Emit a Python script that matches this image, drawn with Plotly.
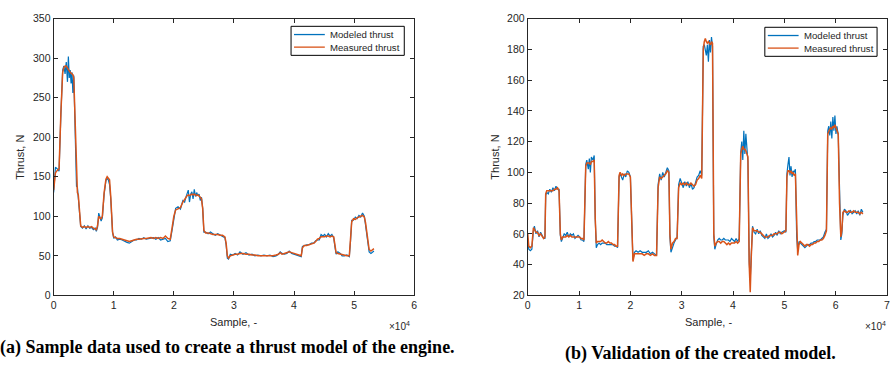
import plotly.graph_objects as go

# ---- (a) training data: sample index, measured thrust, modeled thrust ----
train_sample = [0, 300, 600, 900, 1200, 1500, 1700, 1900, 2100, 2300, 2450, 2600, 2750, 2900, 3050, 3200, 3350,
                3600, 3800, 3950, 4100, 4300, 4500, 4800, 5100, 5400, 5700, 6000, 6300, 6600, 6900, 7100, 7300,
                7500, 7700, 7900, 8100, 8400, 8700, 8900, 9100, 9300, 9500, 9800, 10000, 10300, 10600, 11000,
                11400, 11800, 12200, 12600, 13000, 13400, 13800, 14200, 14600, 15000, 15400, 15800, 16200, 16600,
                17000, 17400, 17800, 18200, 18600, 19000, 19400, 19700, 20000, 20300, 20700, 21100, 21500, 21800,
                22000, 22200, 22400, 22600, 22800, 23000, 23200, 23400, 23600, 23800, 24000, 24200, 24400, 24600,
                24800, 25000, 25300, 25700, 26100, 26500, 26900, 27300, 27700, 28100, 28500, 28700, 28900, 29100,
                29400, 29800, 30200, 30600, 31000, 31500, 32000, 32500, 33000, 33500, 34000, 34500, 35000, 35500,
                36000, 36500, 37000, 37400, 37700, 38000, 38400, 38800, 39200, 39600, 40000, 40400, 40800, 41200,
                41400, 41700, 42100, 42500, 42900, 43300, 43600, 43900, 44200, 44500, 44800, 45100, 45400, 45700,
                46000, 46300, 46600, 46800, 47000, 47300, 47700, 48000, 48400, 48800, 49200, 49400, 49600, 49900,
                50200, 50500, 50800, 51100, 51400, 51700, 51900, 52200, 52500, 52800, 53000, 53300]
train_measured = [133, 155, 158, 160, 230, 282, 288, 290, 290, 288, 287, 284, 282, 281, 280, 279, 275,
                  210, 140, 130, 127, 110, 88, 86, 87, 86, 87, 86, 87, 85, 84, 83, 88,
                  100, 98, 97, 100, 130, 147, 150, 148, 146, 125, 80, 74, 73, 72, 72,
                  71, 70, 69, 68, 69, 70, 71, 71, 72, 72, 72, 73, 73, 72,
                  73, 72, 73, 72, 75, 72, 71, 85, 100, 108, 110, 111, 118, 122,
                  125, 126, 127, 126, 127, 128, 127, 128, 127, 126, 127, 126, 124, 122,
                  110, 82, 79, 79, 78, 77, 77, 77, 76, 76, 74, 66, 50, 47,
                  50, 51, 52, 52, 53, 53, 52, 52, 51, 51, 50, 50, 50, 50,
                  50, 50, 51, 52, 54, 52, 53, 54, 55, 54, 53, 52, 51, 50,
                  60, 63, 63, 64, 65, 66, 68, 71, 72, 74, 74, 74, 75, 75,
                  74, 75, 74, 65, 54, 53, 52, 52, 51, 50, 50, 70, 93, 97,
                  96, 98, 99, 100, 101, 99, 92, 75, 58, 56, 57, 59]
train_modeled = [130, 162, 160, 157, 228, 285, 290, 280, 295, 270, 302, 275, 285, 268, 282, 256, 278,
                 205, 138, 137, 124, 112, 87, 85, 88, 84, 88, 85, 86, 83, 85, 81, 86,
                 104, 100, 94, 98, 128, 145, 148, 146, 140, 122, 80, 72, 74, 70, 71,
                 70, 68, 67, 66, 68, 70, 70, 72, 71, 73, 71, 72, 72, 73,
                 71, 73, 70, 71, 72, 68, 69, 82, 98, 110, 112, 109, 120, 118,
                 124, 129, 133, 118, 128, 131, 122, 134, 125, 130, 126, 128, 120, 124,
                 110, 80, 80, 78, 80, 78, 76, 78, 76, 75, 73, 64, 47, 46,
                 52, 51, 53, 51, 55, 52, 54, 51, 52, 50, 51, 50, 51, 50,
                 51, 49, 50, 52, 55, 53, 52, 53, 56, 53, 52, 51, 50, 49,
                 62, 63, 64, 64, 66, 66, 69, 70, 70, 77, 75, 77, 74, 78,
                 75, 77, 73, 62, 52, 55, 53, 50, 50, 51, 49, 68, 95, 95,
                 99, 97, 101, 99, 104, 100, 90, 72, 55, 53, 54, 56]

# ---- (b) validation data ----
valid_sample = [0, 200, 500, 800, 1100, 1300, 1600, 1900, 2200, 2500, 2800, 3100, 3350,
                3500, 3700, 4000, 4300, 4600, 4900, 5200, 5500, 5800, 6100,
                6350, 6550, 6800, 7100, 7400, 7700, 8000, 8300, 8600, 8900, 9200, 9500, 9800, 10100, 10400,
                10700, 10950, 11300, 11500, 11800, 12000, 12200, 12400, 12700, 12950,
                13150, 13350, 13600, 13900, 14200, 14500, 14800, 15100, 15400, 15700, 16000, 16300, 16600,
                16900, 17200, 17500, 17800, 18000, 18300, 18500, 18800, 19100, 19400, 19700, 20000,
                20300, 20500, 20800, 21100, 21500, 21900, 22300, 22700, 23100, 23500, 23900, 24300, 24700,
                25100, 25400, 25700, 26000, 26300, 26600, 26900, 27200, 27500,
                27700, 27900, 28200, 28500, 28800, 29100, 29400, 29700, 30000, 30300, 30600, 30900, 31200,
                31500, 31800, 32100, 32400, 32700, 33000, 33300, 33600, 33900,
                34200, 34400, 34600, 34800, 35000, 35200, 35400, 35600, 35800, 36000,
                36250, 36450, 36700, 37000, 37300, 37600, 37900, 38200, 38500, 38800, 39100, 39400, 39700,
                40000, 40300, 40600, 40900, 41200, 41500, 41700, 41900, 42100, 42300, 42500, 42700, 42900,
                43150, 43350, 43550, 43800, 44100, 44400, 44700, 45000, 45300, 45600, 45900, 46200, 46500,
                46800, 47100, 47400, 47700, 48000, 48300, 48600, 48900, 49200, 49500, 49800, 50000, 50300,
                50500, 50700, 50900, 51100, 51300, 51500, 51700, 51900, 52150,
                52400, 52600, 52850, 53100, 53400, 53700, 54000, 54300, 54600, 54900, 55200, 55500, 55800,
                56100, 56400, 56700, 57000, 57300, 57600, 57900, 58200,
                58450, 58650, 58850, 59050, 59250, 59450, 59650, 59850, 60050, 60250, 60500,
                60750, 61000, 61200, 61400, 61700, 62000, 62300, 62600, 62900, 63200, 63500, 63800, 64100,
                64400, 64700, 65000, 65300]
valid_measured = [60, 52, 51, 52, 64, 63, 61, 61, 59, 60, 58, 57, 58,
                  86, 88, 88, 88, 88, 88, 89, 89, 90, 88,
                  60, 56, 58, 58, 58, 59, 58, 59, 58, 58, 58, 58, 58, 58, 57,
                  57, 56, 104, 106, 106, 106, 105, 107, 107, 108,
                  70, 54, 55, 55, 55, 56, 55, 54, 54, 55, 54, 54, 53,
                  53, 52, 52, 98, 100, 98, 99, 98, 99, 99, 99, 97,
                  60, 42, 47, 47, 47, 47, 47, 46, 47, 47, 46, 47, 46,
                  46, 90, 97, 96, 97, 98, 99, 101, 100,
                  60, 50, 54, 55, 57, 57, 90, 93, 92, 93, 92, 93, 92,
                  92, 93, 92, 91, 92, 95, 96, 98, 96,
                  180, 185, 187, 185, 184, 185, 184, 183, 185, 184,
                  60, 52, 54, 55, 55, 54, 55, 55, 54, 53, 54, 53, 54,
                  54, 54, 55, 54, 55, 112, 115, 117, 115, 115, 114, 112, 110,
                  40, 22, 45, 64, 62, 62, 62, 61, 61, 60, 59, 58, 58,
                  58, 59, 59, 59, 60, 60, 60, 61, 61, 60, 61, 61, 62,
                  97, 101, 101, 100, 101, 99, 100, 98, 99,
                  60, 46, 53, 55, 54, 53, 52, 53, 53, 52, 53, 53, 54,
                  54, 55, 55, 56, 56, 57, 59, 62,
                  125, 127, 128, 129, 128, 130, 129, 131, 129, 127, 125,
                  80, 58, 62, 74, 75, 74, 74, 75, 74, 74, 75, 74, 74,
                  74, 73, 74, 73]
valid_modeled = [57, 50, 49, 50, 62, 65, 60, 62, 58, 61, 59, 57, 57,
                 85, 87, 86, 89, 87, 90, 88, 91, 89, 89,
                 59, 55, 57, 60, 59, 61, 58, 60, 59, 60, 57, 58, 59, 58, 56,
                 56, 55, 105, 108, 102, 109, 100, 110, 108, 111,
                 70, 51, 53, 54, 53, 54, 54, 54, 53, 53, 53, 53, 53,
                 52, 52, 51, 97, 99, 96, 95, 99, 97, 101, 100, 97,
                 58, 43, 48, 49, 48, 49, 48, 48, 48, 49, 47, 48, 47,
                 46, 92, 99, 95, 100, 97, 100, 103, 101,
                 58, 48, 52, 54, 56, 58, 92, 96, 93, 90, 94, 91, 94,
                 90, 93, 89, 90, 93, 97, 98, 101, 98,
                 182, 183, 180, 176, 183, 172, 186, 178, 188, 182,
                 58, 50, 53, 56, 57, 56, 56, 57, 56, 56, 56, 55, 57,
                 56, 55, 57, 55, 57, 113, 120, 108, 127, 112, 125, 118, 107,
                 42, 30, 46, 65, 61, 60, 63, 60, 62, 59, 58, 57, 60,
                 57, 58, 60, 58, 59, 61, 59, 62, 60, 61, 62, 62, 61,
                 99, 105, 110, 98, 104, 97, 101, 100, 102,
                 58, 49, 55, 54, 53, 52, 51, 52, 53, 53, 54, 54, 55,
                 55, 56, 56, 56, 57, 58, 61, 63,
                 127, 130, 124, 133, 122, 136, 127, 137, 125, 130, 124,
                 78, 56, 60, 72, 76, 75, 72, 74, 75, 73, 74, 75, 73,
                 75, 72, 76, 74]

# axis ticks
a_xticks = [0, 1, 2, 3, 4, 5, 6]
a_yticks = [0, 50, 100, 150, 200, 250, 300, 350]
b_xticks = [0, 1, 2, 3, 4, 5, 6, 7]
b_yticks = [20, 40, 60, 80, 100, 120, 140, 160, 180, 200]

series_names = ["Modeled thrust", "Measured thrust"]

BLUE = "#0072BD"
ORANGE = "#D95319"
AXC = "#262626"
SANS = "Liberation Sans, Arial, sans-serif"
SERIF = "Liberation Serif"
W, H = 891, 372

fig = go.Figure()

def scale(v):
    return [s / 1e4 for s in v]

fig.add_trace(go.Scatter(x=scale(train_sample), y=train_modeled, mode="lines", name=series_names[0],
                         line=dict(color=BLUE, width=1.2), xaxis="x", yaxis="y"))
fig.add_trace(go.Scatter(x=scale(train_sample), y=train_measured, mode="lines", name=series_names[1],
                         line=dict(color=ORANGE, width=1.5), xaxis="x", yaxis="y"))
fig.add_trace(go.Scatter(x=scale(valid_sample), y=valid_modeled, mode="lines", name=series_names[0],
                         line=dict(color=BLUE, width=1.2), xaxis="x2", yaxis="y2"))
fig.add_trace(go.Scatter(x=scale(valid_sample), y=valid_measured, mode="lines", name=series_names[1],
                         line=dict(color=ORANGE, width=1.5), xaxis="x2", yaxis="y2"))

ydom = [1 - 299 / H, 1 - 13 / H]

def axis(dom, rng, ticks, anchor):
    return dict(domain=dom, range=rng, tickvals=ticks, ticktext=[str(t) for t in ticks],
                showgrid=False, zeroline=False, showline=True, mirror="ticks", linecolor=AXC,
                linewidth=1, ticks="inside", ticklen=4, tickcolor=AXC,
                tickfont=dict(family=SANS, size=10.5, color=AXC), anchor=anchor)

fig.update_layout(
    width=W, height=H, margin=dict(l=0, r=0, t=0, b=0),
    paper_bgcolor="white", plot_bgcolor="white", showlegend=False,
    xaxis=axis([51 / W, 414 / W], [0, 6], a_xticks, "y"),
    yaxis=axis(ydom, [0, 350], a_yticks, "x"),
    xaxis2=axis([528.3 / W, 890 / W], [0, 7], b_xticks, "y2"),
    yaxis2=axis(ydom, [20, 200], b_yticks, "x2"),
)

ann = []
shapes = []

def text(x, y, s, size=11, angle=0, family=SANS, color=AXC, xanchor="center"):
    ann.append(dict(x=x / W, y=1 - y / H, xref="paper", yref="paper", text=s, showarrow=False,
                    textangle=angle, font=dict(family=family, size=size, color=color),
                    xanchor=xanchor, yanchor="middle"))

def px_line(x0, y0, x1, y1, color, width):
    shapes.append(dict(type="line", xref="paper", yref="paper", x0=x0 / W, x1=x1 / W,
                       y0=1 - y0 / H, y1=1 - y1 / H, line=dict(color=color, width=width)))

def legend_box(left, top, right, bottom):
    shapes.append(dict(type="rect", xref="paper", yref="paper", x0=left / W, x1=right / W,
                       y0=1 - bottom / H, y1=1 - top / H, fillcolor="white",
                       line=dict(color="black", width=1)))
    rows = [top + 8.5, top + 21.5]
    for row, name, color in zip(rows, series_names, [BLUE, ORANGE]):
        px_line(left + 3, row, left + 34, row, color, 1.3)
        text(left + 37, row, name, size=9.6, xanchor="left")

legend_box(290, 21, 404, 51)
legend_box(767, 22, 880, 52)

text(17, 156, "Thrust, N", angle=-90)
text(495, 156, "Thrust, N", angle=-90)
text(232, 327, "Sample, -")
text(710, 327, "Sample, -")
text(399, 331, "×10<sup>4</sup>", size=10)
text(878, 331, "×10<sup>4</sup>", size=10)
text(226, 353, "<b>(a) Sample data used to create a thrust model of the engine.</b>", size=18,
     family=SERIF, color="black")
text(702, 359, "<b>(b) Validation of the created model.</b>", size=18, family=SERIF, color="black")

fig.update_layout(annotations=ann, shapes=shapes)

fig.write_html("out.html")
